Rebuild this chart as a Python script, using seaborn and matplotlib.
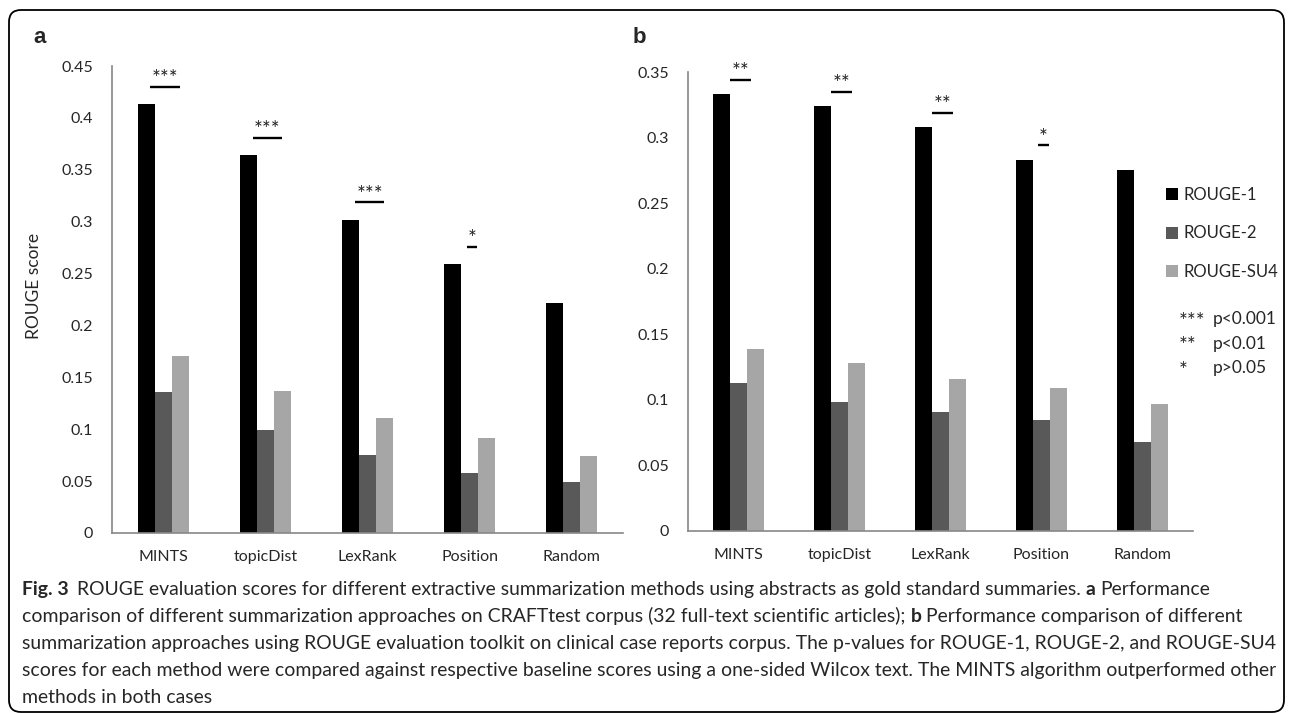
import numpy as np
import pandas as pd
import matplotlib
matplotlib.use("Agg")
import matplotlib.pyplot as plt
import seaborn as sns
from matplotlib.patches import FancyBboxPatch
from matplotlib.transforms import IdentityTransform

methods = ["MINTS", "topicDist", "LexRank", "Position", "Random"]
metrics = ["ROUGE-1", "ROUGE-2", "ROUGE-SU4"]
colors = ["#000000", "#595959", "#a6a6a6"]

# a: CRAFTtest corpus
craft_r1 = [0.413, 0.364, 0.302, 0.259, 0.222]
craft_r2 = [0.136, 0.099, 0.075, 0.058, 0.049]
craft_su4 = [0.171, 0.137, 0.111, 0.092, 0.074]
craft_sig = ["***", "***", "***", "*", ""]

# b: clinical case reports corpus
case_r1 = [0.333, 0.324, 0.308, 0.283, 0.275]
case_r2 = [0.113, 0.098, 0.091, 0.085, 0.068]
case_su4 = [0.139, 0.128, 0.116, 0.109, 0.097]
case_sig = ["**", "**", "**", "*", ""]

yticks_a = [0, 0.05, 0.1, 0.15, 0.2, 0.25, 0.3, 0.35, 0.4, 0.45]
ylabels_a = ["0", "0.05", "0.1", "0.15", "0.2", "0.25", "0.3", "0.35", "0.4", "0.45"]
yticks_b = [0, 0.05, 0.1, 0.15, 0.2, 0.25, 0.3, 0.35]
ylabels_b = ["0", "0.05", "0.1", "0.15", "0.2", "0.25", "0.3", "0.35"]

pvalue_notes = [("***", "p<0.001"), ("**", "p<0.01"), ("*", "p>0.05")]

caption = [
    [("Fig. 3", True), ("ROUGE evaluation scores for different extractive summarization methods using abstracts as gold standard summaries.", False),
     ("a", True), ("Performance", False)],
    [("comparison of different summarization approaches on CRAFTtest corpus (32 full-text scientific articles);", False),
     ("b", True), ("Performance comparison of different", False)],
    [("summarization approaches using ROUGE evaluation toolkit on clinical case reports corpus. The p-values for ROUGE-1, ROUGE-2, and ROUGE-SU4", False)],
    [("scores for each method were compared against respective baseline scores using a one-sided Wilcox text. The MINTS algorithm outperformed other", False)],
    [("methods in both cases", False)],
]

sns.set_style("white")
plt.rcParams["font.family"] = ["Lato", "DejaVu Sans"]

W, H = 1293, 713
fig = plt.figure(figsize=(W / 100, H / 100), dpi=100)


def px_axes(x0, y0, x1, y1):
    return fig.add_axes([x0 / W, 1 - y1 / H, (x1 - x0) / W, (y1 - y0) / H])


def long_df(r1, r2, su4):
    return pd.DataFrame({
        "method": methods * 3,
        "metric": np.repeat(metrics, len(methods)),
        "score": r1 + r2 + su4,
    })


def draw_panel(ax, r1, r2, su4, sig, ticks, labels, bump, legend):
    sns.barplot(data=long_df(r1, r2, su4), x="method", y="score", hue="metric",
                palette=colors, width=0.5, gap=0, saturation=1, errorbar=None,
                linewidth=0, edgecolor="none", ax=ax, legend=legend)
    ax.set_xlim(-0.5, len(methods) - 0.5)
    ax.set_ylim(0, ticks[-1])
    ax.set_yticks(ticks, labels)
    ax.set_xlabel("")
    ax.set_ylabel("")
    for s in ["top", "right"]:
        ax.spines[s].set_visible(False)
    for s in ["left", "bottom"]:
        ax.spines[s].set_color("#888888")
        ax.spines[s].set_linewidth(1.2)
    ax.tick_params(axis="y", length=5, width=1.1, color="#888888", pad=8.5, labelsize=11.5)
    ax.tick_params(axis="x", length=0, pad=12, labelsize=11.5)
    half = {3: 0.145, 2: 0.1, 1: 0.05}
    for i, s in enumerate(sig):
        if not s:
            continue
        y = r1[i] + bump
        xc = i + 0.02
        ax.plot([xc - half[len(s)], xc + half[len(s)]], [y, y], color="black", lw=1.7,
                solid_capstyle="butt")
        ax.annotate(s, (xc, y), xytext=(0, 1), textcoords="offset points",
                    ha="center", va="baseline", fontsize=15, color="#222222")


ax_a = px_axes(112, 66, 623, 533)
ax_b = px_axes(688, 72, 1193, 531)
draw_panel(ax_a, craft_r1, craft_r2, craft_su4, craft_sig, yticks_a, ylabels_a, 0.017, False)
draw_panel(ax_b, case_r1, case_r2, case_su4, case_sig, yticks_b, ylabels_b, 0.011, True)

ax_a.set_ylabel("ROUGE score", fontsize=12.5)
ax_a.yaxis.set_label_coords(-0.137, 0.53)

ax_b.legend(loc="upper left", bbox_to_anchor=(1166 / W, 1 - 187 / H), bbox_transform=fig.transFigure,
            frameon=False, fontsize=12, handlelength=0.7, handleheight=0.7, handletextpad=0.35,
            labelspacing=1.35, borderaxespad=0, borderpad=0)

for k, (stars, txt) in enumerate(pvalue_notes):
    y = 1 - (319 + 24.5 * k) / H
    fig.text(1179 / W, y - 3 / H, stars, fontsize=15, va="center")
    fig.text(1213 / W, y, txt, fontsize=12.5, va="center")

for lab, x in [("a", 33), ("b", 633)]:
    fig.text(x / W, 1 - 43 / H, lab, fontsize=16, fontweight="bold",
             family=["Liberation Sans", "DejaVu Sans"], va="baseline")

# rounded frame around the whole figure
frame = FancyBboxPatch((9, 1), W - 18, H - 11, boxstyle="round,pad=0,rounding_size=12",
                       transform=IdentityTransform(), fill=False, lw=1.3, ec="black")
fig.add_artist(frame)

# caption with bold parts
renderer = fig.canvas.get_renderer()


def text_width(s, bold, size):
    t = fig.text(0, 0, s, fontsize=size, fontweight="bold" if bold else "normal",
                 transform=IdentityTransform())
    w = t.get_window_extent(renderer).width
    t.remove()
    return w


base = 13
line4 = caption[3][0][0]
cap_size = base * 1246 / text_width(line4, False, base)
space = text_width("a a", False, cap_size) - text_width("aa", False, cap_size)

for n, line in enumerate(caption):
    x = 22
    ybase = H - (595 + 27 * n)
    for j, (seg, bold) in enumerate(line):
        fig.text(x, ybase, seg, fontsize=cap_size, fontweight="bold" if bold else "normal",
                 transform=IdentityTransform(), va="baseline", ha="left")
        x += text_width(seg, bold, cap_size) + space * (1.6 if seg == "Fig. 3" else 1.0)

fig.savefig("out.png", dpi=100)
